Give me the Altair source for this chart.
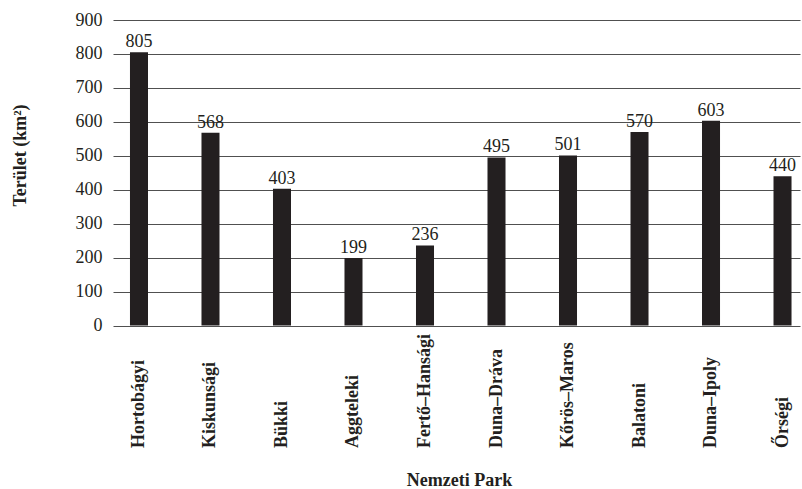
import altair as alt
import pandas as pd

parks = ["Hortobágyi", "Kiskunsági", "Bükki", "Aggteleki", "Fertő–Hansági",
         "Duna–Dráva", "Kőrös–Maros", "Balatoni", "Duna–Ipoly", "Őrségi"]
areas = [805, 568, 403, 199, 236, 495, 501, 570, 603, 440]
y_ticks = [0, 100, 200, 300, 400, 500, 600, 700, 800, 900]

df = pd.DataFrame({"park": parks, "area": areas})

FONT = "Times New Roman, Liberation Serif, DejaVu Serif, serif"
INK = "#231f20"

x = alt.X(
    "park:N", sort=parks,
    scale=alt.Scale(paddingInner=0.748, paddingOuter=0.178, align=0.667),
    axis=alt.Axis(
        title="Nemzeti Park", labelAngle=-90, labelAlign="left", labelBaseline="middle",
        labelPadding=122, labelFont=FONT, labelFontSize=18, labelFontWeight="bold",
        labelColor=INK, labelOverlap=False, labelBound=False, labelFlush=False,
        domain=False, ticks=False, grid=False,
        titleFont=FONT, titleFontSize=18, titleFontWeight="bold", titleColor=INK,
        titleX=346, titleY=160, titleAlign="center", titleBaseline="alphabetic", titleAnchor="middle",
    ),
)
y = alt.Y(
    "area:Q",
    scale=alt.Scale(domain=[0, 900], nice=False),
    axis=alt.Axis(
        title="Terület (km²)", values=y_ticks, tickCount=10, labelOverlap=False,
        labelFont=FONT, labelFontSize=18, labelColor=INK, labelPadding=11,
        domain=False, ticks=False, grid=True, gridColor="#505050", gridWidth=1.2,
        titleFont=FONT, titleFontSize=18, titleFontWeight="bold", titleColor=INK,
        titleAngle=270, titleX=-93, titleY=135, titleAlign="center", titleBaseline="middle",
    ),
)

bars = alt.Chart(df).mark_bar(color=INK).encode(x=x, y=y)
labels = alt.Chart(df).mark_text(
    font=FONT, fontSize=18, color=INK, baseline="alphabetic", dy=-5
).encode(x=x, y=y, text="area:Q")

chart = (bars + labels).properties(
    width=687, height=305.5,
    autosize=alt.AutoSizeParams(type="none"),
    padding={"left": 113, "top": 20, "right": 2, "bottom": 163},
).configure_view(stroke=None)

chart.save("out.html", embed_options={"renderer": "svg", "actions": False})
